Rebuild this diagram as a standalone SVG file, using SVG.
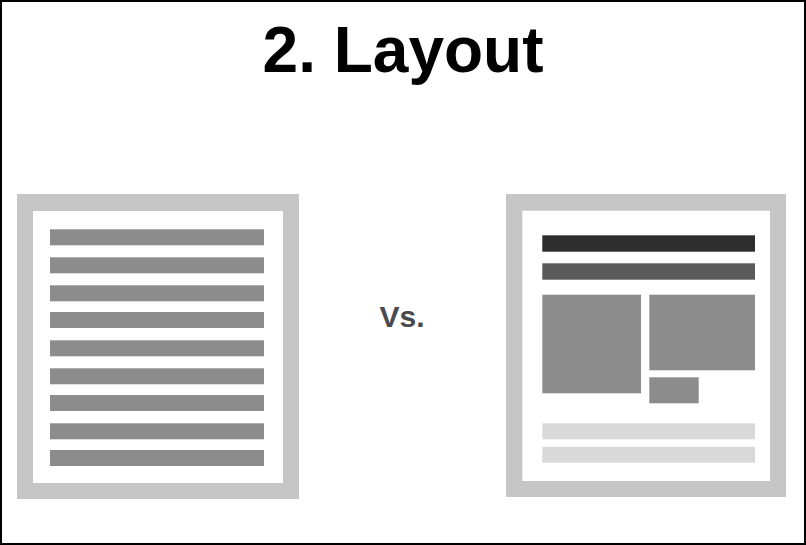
<svg xmlns="http://www.w3.org/2000/svg" width="806" height="545" viewBox="0 0 806 545">
  <style>
    .frame { fill: #c6c6c6; }
    .page { fill: #ffffff; }
    .line { fill: #8c8c8c; }
    .block { fill: #8c8c8c; }
    .head { fill: #2d2d2d; }
    .sub { fill: #5a5a5a; }
    .foot { fill: #d9d9d9; }
    .title { font-family: "Liberation Sans", Arial, sans-serif; font-weight: bold; font-size: 64px; fill: #000000; }
    .vs { font-family: "Liberation Sans", Arial, sans-serif; font-weight: bold; font-size: 30px; fill: #4a4a4e; }
  </style>

  <!-- background and outer border -->
  <rect x="0" y="0" width="806" height="545" fill="#ffffff"/>
  <rect x="1" y="1" width="804" height="543" fill="none" stroke="#000000" stroke-width="2"/>

  <text class="title" x="403" y="72" text-anchor="middle">2. Layout</text>

  <!-- plain text page: uniform lines -->
  <g id="plain-page">
    <rect class="frame" x="17" y="194" width="282" height="305"/>
    <rect class="page" x="33" y="211" width="250" height="272"/>
    <rect class="line" x="50" y="229.3" width="214" height="16"/>
    <rect class="line" x="50" y="257.3" width="214" height="16"/>
    <rect class="line" x="50" y="285.3" width="214" height="16"/>
    <rect class="line" x="50" y="312" width="214" height="16"/>
    <rect class="line" x="50" y="340.3" width="214" height="16"/>
    <rect class="line" x="50" y="368.3" width="214" height="16"/>
    <rect class="line" x="50" y="395" width="214" height="16"/>
    <rect class="line" x="50" y="423.3" width="214" height="16"/>
    <rect class="line" x="50" y="450" width="214" height="16"/>
  </g>

  <g id="versus">
    <text class="vs" x="402" y="327" text-anchor="middle">Vs.</text>
  </g>

  <!-- structured page: heading, blocks, footer -->
  <g id="layout-page">
    <rect class="frame" x="506" y="194" width="280" height="303"/>
    <rect class="page" x="522.3" y="210.7" width="247.7" height="270.3"/>
    <rect class="head" x="542.3" y="235.3" width="212.7" height="16.4"/>
    <rect class="sub" x="542.3" y="263.3" width="212.7" height="16.4"/>
    <rect class="block" x="542.3" y="294.7" width="98.7" height="98.6"/>
    <rect class="block" x="649.3" y="294.7" width="105.7" height="75.6"/>
    <rect class="block" x="649.3" y="377.3" width="49.4" height="26"/>
    <rect class="foot" x="542.3" y="423.3" width="212.7" height="16"/>
    <rect class="foot" x="542.3" y="446.7" width="212.7" height="16"/>
  </g>
</svg>
